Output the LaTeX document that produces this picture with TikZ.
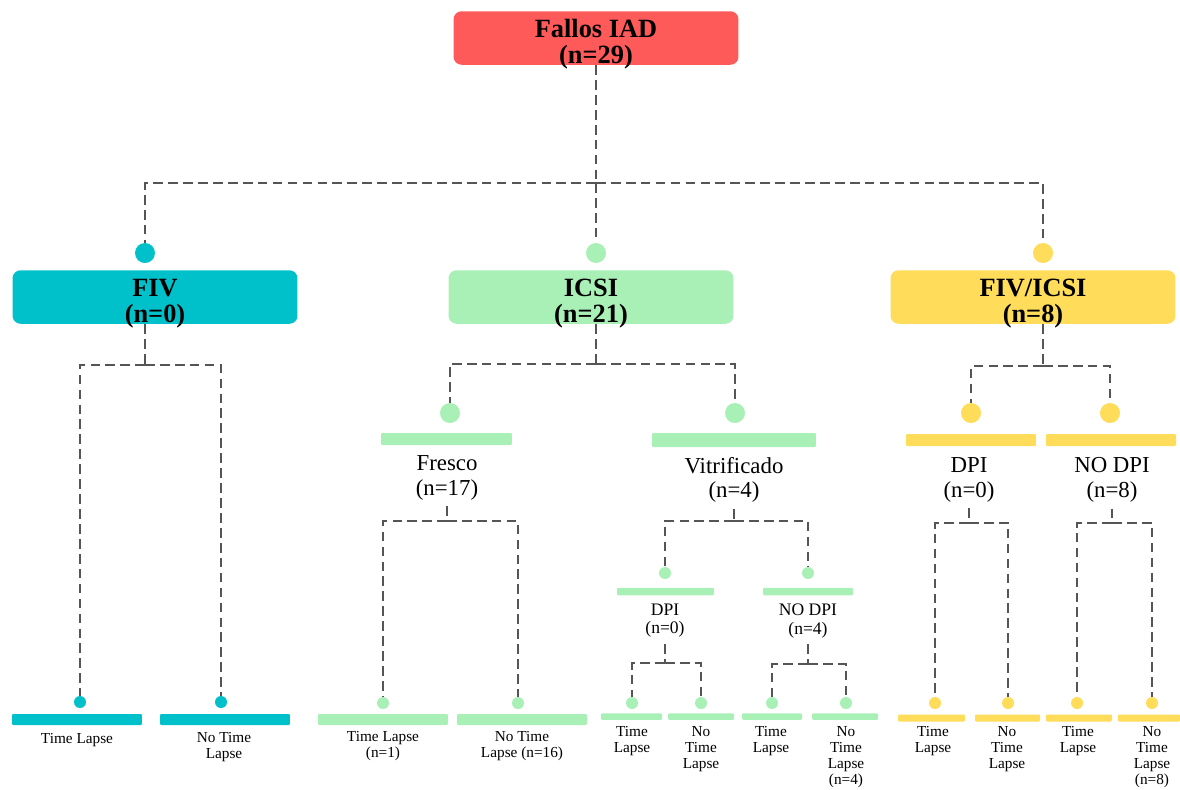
\documentclass[tikz,border=0pt]{standalone}
\usepackage{fontspec}
\setmainfont{Liberation Serif}
\usetikzlibrary{shapes, arrows, positioning}
\definecolor{iadred}{HTML}{FF5A5A}
\definecolor{fivteal}{HTML}{00C1CA}
\definecolor{icsigreen}{HTML}{A9F0B7}
\definecolor{mixyellow}{HTML}{FFDC5A}
\definecolor{linegray}{HTML}{555555}

\begin{document}
\begin{tikzpicture}[x=0.02cm, y=-0.02cm]
\tikzset{box/.style = {rounded corners=0.16cm, minimum width=5.7cm, minimum height=1.07cm, align=center, inner ysep=0pt, text height=28.5pt, text depth=0pt, font=\bfseries\fontsize{15}{14.7}\selectfont},
	bigdot/.style = {circle, inner sep=0pt, minimum size=0.4cm},
	dot/.style = {circle, inner sep=0pt, minimum size=0.24cm},
	bar/.style = {rectangle, inner sep=0pt, rounded corners=0.6pt},
	mid/.style = {align=center, font=\fontsize{13}{14}\selectfont},
	small/.style = {align=center, font=\fontsize{10}{10.3}\selectfont},
	tiny/.style = {align=center, font=\fontsize{8.7}{9}\selectfont},
	edge/.style = {draw=linegray, line width=1.5pt, dash pattern=on 5.5pt off 3pt}}
\useasboundingbox (0,0) rectangle (1180,789);
            % vertices
	\node[box, fill=iadred] (iad) at (596,38) {Fallos IAD\\(n=29)};
	\coordinate (j0) at (596,183);
	\node[bigdot, fill=fivteal] (dfiv) at (145,253) {};
	\node[bigdot, fill=icsigreen] (dicsi) at (596,253) {};
	\node[bigdot, fill=mixyellow] (dmix) at (1043,253) {};
	\node[box, fill=fivteal] (fiv) at (155,297) {FIV\\(n=0)};
	\node[box, fill=icsigreen] (icsi) at (591,297) {ICSI\\(n=21)};
	\node[box, fill=mixyellow] (mix) at (1033,297) {FIV/ICSI\\(n=8)};
            % FIV
	\coordinate (jfiv) at (145,365);
	\node[dot, fill=fivteal] (dfivtl) at (80,702) {};
	\node[dot, fill=fivteal] (dfivntl) at (221,702) {};
	\node[bar, fill=fivteal, minimum width=2.6cm, minimum height=0.22cm] (bfivtl) at (77,719.5) {};
	\node[bar, fill=fivteal, minimum width=2.6cm, minimum height=0.22cm] (bfivntl) at (225,719.5) {};
	\node[tiny] (lfivtl) at (77,740) {Time Lapse};
	\node[tiny] (lfivntl) at (224,747) {No Time\\Lapse};
            % ICSI
	\coordinate (jicsi) at (596,364);
	\node[bigdot, fill=icsigreen] (dfresco) at (450,413) {};
	\node[bigdot, fill=icsigreen] (dvitri) at (735,413) {};
	\node[bar, fill=icsigreen, minimum width=2.62cm, minimum height=0.24cm] (bfresco) at (446.5,439) {};
	\node[bar, fill=icsigreen, minimum width=3.28cm, minimum height=0.28cm] (bvitri) at (734,440) {};
	\node[mid] (lfresco) at (447,478) {Fresco\\(n=17)};
	\node[mid] (lvitri) at (734,480) {Vitrificado\\(n=4)};
            % Fresco
	\coordinate (jfresco) at (447,521);
	\node[dot, fill=icsigreen] (dfrtl) at (383,703) {};
	\node[dot, fill=icsigreen] (dfrntl) at (518,703) {};
	\node[bar, fill=icsigreen, minimum width=2.6cm, minimum height=0.22cm] (bfrtl) at (383,719.5) {};
	\node[bar, fill=icsigreen, minimum width=2.6cm, minimum height=0.22cm] (bfrntl) at (522,719.5) {};
	\node[tiny] (lfrtl) at (383,746) {Time Lapse\\(n=1)};
	\node[tiny] (lfrntl) at (522,746) {No Time\\Lapse (n=16)};
            % Vitrificado
	\coordinate (jvitri) at (734,521);
	\node[dot, fill=icsigreen] (dvdpi) at (665,573) {};
	\node[dot, fill=icsigreen] (dvnodpi) at (808,573) {};
	\node[bar, fill=icsigreen, minimum width=1.94cm, minimum height=0.15cm] (bvdpi) at (665.5,591.5) {};
	\node[bar, fill=icsigreen, minimum width=1.8cm, minimum height=0.15cm] (bvnodpi) at (808,591.5) {};
	\node[small] (lvdpi) at (665,621) {DPI\\(n=0)};
	\node[small] (lvnodpi) at (808,621) {NO DPI\\(n=4)};
	\coordinate (jvdpi) at (665,663);
	\node[dot, fill=icsigreen] (dvdpitl) at (632,703) {};
	\node[dot, fill=icsigreen] (dvdpintl) at (701,703) {};
	\node[bar, fill=icsigreen, minimum width=1.22cm, minimum height=0.13cm] (bvdpitl) at (631.5,716.5) {};
	\node[bar, fill=icsigreen, minimum width=1.32cm, minimum height=0.13cm] (bvdpintl) at (701,716.5) {};
	\node[tiny] (lvdpitl) at (632,741) {Time\\Lapse};
	\node[tiny] (lvdpintl) at (701,749) {No\\Time\\Lapse};
	\coordinate (jvnodpi) at (808,664);
	\node[dot, fill=icsigreen] (dvnodpitl) at (772,703) {};
	\node[dot, fill=icsigreen] (dvnodpintl) at (846,703) {};
	\node[bar, fill=icsigreen, minimum width=1.2cm, minimum height=0.13cm] (bvnodpitl) at (772,716.5) {};
	\node[bar, fill=icsigreen, minimum width=1.32cm, minimum height=0.13cm] (bvnodpintl) at (845,716.5) {};
	\node[tiny] (lvnodpitl) at (771,741) {Time\\Lapse};
	\node[tiny] (lvnodpintl) at (846,757) {No\\Time\\Lapse\\(n=4)};
            % FIV/ICSI
	\coordinate (jmix) at (1043,366);
	\node[bigdot, fill=mixyellow] (dmdpi) at (971,413) {};
	\node[bigdot, fill=mixyellow] (dmnodpi) at (1110,413) {};
	\node[bar, fill=mixyellow, minimum width=2.6cm, minimum height=0.24cm] (bmdpi) at (971,440) {};
	\node[bar, fill=mixyellow, minimum width=2.6cm, minimum height=0.24cm] (bmnodpi) at (1111,440) {};
	\node[mid] (lmdpi) at (969,480) {DPI\\(n=0)};
	\node[mid] (lmnodpi) at (1112,480) {NO DPI\\(n=8)};
	\coordinate (jmdpi) at (969,523);
	\node[dot, fill=mixyellow] (dmdpitl) at (935,703) {};
	\node[dot, fill=mixyellow] (dmdpintl) at (1008,703) {};
	\node[bar, fill=mixyellow, minimum width=1.34cm, minimum height=0.14cm] (bmdpitl) at (931.5,718) {};
	\node[bar, fill=mixyellow, minimum width=1.3cm, minimum height=0.14cm] (bmdpintl) at (1007.5,718) {};
	\node[tiny] (lmdpitl) at (933,741) {Time\\Lapse};
	\node[tiny] (lmdpintl) at (1007,749) {No\\Time\\Lapse};
	\coordinate (jmnodpi) at (1112,523);
	\node[dot, fill=mixyellow] (dmnodpitl) at (1077,703) {};
	\node[dot, fill=mixyellow] (dmnodpintl) at (1152,703) {};
	\node[bar, fill=mixyellow, minimum width=1.32cm, minimum height=0.14cm] (bmnodpitl) at (1079,718) {};
	\node[bar, fill=mixyellow, minimum width=1.24cm, minimum height=0.14cm] (bmnodpintl) at (1149,718) {};
	\node[tiny] (lmnodpitl) at (1078,741) {Time\\Lapse};
	\node[tiny] (lmnodpintl) at (1152,757) {No\\Time\\Lapse\\(n=8)};
            %edges
	\draw[edge] (iad) -- (j0);
	\draw[edge] (j0) -| (dfiv);
	\draw[edge] (j0) -- (dicsi);
	\draw[edge] (j0) -| (dmix);
	\draw[edge] (fiv.south -| jfiv) -- (jfiv);
	\draw[edge] (jfiv) -| (dfivtl);
	\draw[edge] (jfiv) -| (dfivntl);
	\draw[edge] (icsi.south -| jicsi) -- (jicsi);
	\draw[edge] (jicsi) -| (dfresco);
	\draw[edge] (jicsi) -| (dvitri);
	\draw[edge] (lfresco) -- (jfresco);
	\draw[edge] (jfresco) -| (dfrtl);
	\draw[edge] (jfresco) -| (dfrntl);
	\draw[edge] (lvitri) -- (jvitri);
	\draw[edge] (jvitri) -| (dvdpi);
	\draw[edge] (jvitri) -| (dvnodpi);
	\draw[edge] (lvdpi) -- (jvdpi);
	\draw[edge] (jvdpi) -| (dvdpitl);
	\draw[edge] (jvdpi) -| (dvdpintl);
	\draw[edge] (lvnodpi) -- (jvnodpi);
	\draw[edge] (jvnodpi) -| (dvnodpitl);
	\draw[edge] (jvnodpi) -| (dvnodpintl);
	\draw[edge] (mix.south -| jmix) -- (jmix);
	\draw[edge] (jmix) -| (dmdpi);
	\draw[edge] (jmix) -| (dmnodpi);
	\draw[edge] (lmdpi) -- (jmdpi);
	\draw[edge] (jmdpi) -| (dmdpitl);
	\draw[edge] (jmdpi) -| (dmdpintl);
	\draw[edge] (lmnodpi) -- (jmnodpi);
	\draw[edge] (jmnodpi) -| (dmnodpitl);
	\draw[edge] (jmnodpi) -| (dmnodpintl);
\end{tikzpicture}
\end{document}
